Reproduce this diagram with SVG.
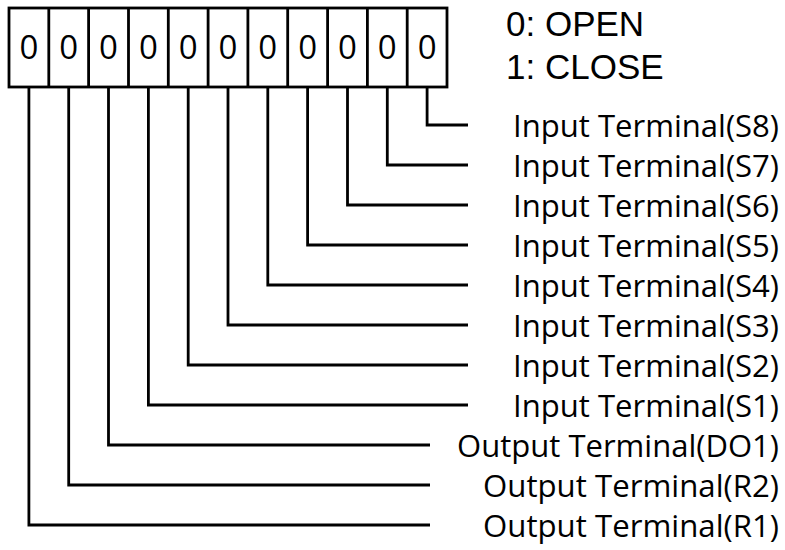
<svg xmlns="http://www.w3.org/2000/svg" width="785" height="550" viewBox="0 0 785 550">
<style>
  .ln { fill: none; stroke: #000; stroke-width: 2.8; stroke-linejoin: miter; stroke-linecap: butt; }
  .dig { font-family: "Open Sans", "Liberation Sans", sans-serif; font-size: 33px; fill: #000; text-anchor: middle; }
  .leg { font-family: "Liberation Sans", Arial, sans-serif; font-size: 35px; fill: #000; }
  .lbl { font-family: "Open Sans", "Liberation Sans", sans-serif; font-size: 31px; fill: #000; text-anchor: end; }
</style>
<rect width="785" height="550" fill="#fff"/>
<g id="switch">
  <rect class="ln" x="9" y="8" width="438" height="79"/>
  <path class="ln" d="M48.8 8V87M88.6 8V87M128.5 8V87M168.3 8V87M208.1 8V87M247.9 8V87M287.7 8V87M327.6 8V87M367.4 8V87M407.2 8V87"/>
  <text class="dig" x="28.9" y="59">0</text>
  <text class="dig" x="68.7" y="59">0</text>
  <text class="dig" x="108.5" y="59">0</text>
  <text class="dig" x="148.4" y="59">0</text>
  <text class="dig" x="188.2" y="59">0</text>
  <text class="dig" x="228" y="59">0</text>
  <text class="dig" x="267.8" y="59">0</text>
  <text class="dig" x="307.6" y="59">0</text>
  <text class="dig" x="347.5" y="59">0</text>
  <text class="dig" x="387.3" y="59">0</text>
  <text class="dig" x="427.1" y="59">0</text>
</g>
<g id="legend">
  <text class="leg" x="506" y="36">0: OPEN</text>
  <text class="leg" x="506" y="79">1: CLOSE</text>
</g>
<g id="connectors">
  <path class="ln" d="M427.1 87V125H468"/>
  <path class="ln" d="M387.3 87V165H468"/>
  <path class="ln" d="M347.5 87V205H468"/>
  <path class="ln" d="M307.6 87V245H468"/>
  <path class="ln" d="M267.8 87V285H468"/>
  <path class="ln" d="M228 87V325H468"/>
  <path class="ln" d="M188.2 87V365H468"/>
  <path class="ln" d="M148.4 87V405H468"/>
  <path class="ln" d="M108.5 87V445H430"/>
  <path class="ln" d="M68.7 87V485H430"/>
  <path class="ln" d="M28.9 87V525H430"/>
</g>
<g id="labels">
  <g id="s8"><text class="lbl" x="779" y="137" textLength="266" lengthAdjust="spacingAndGlyphs">Input Terminal(S8)</text></g>
  <g id="s7"><text class="lbl" x="779" y="177" textLength="266" lengthAdjust="spacingAndGlyphs">Input Terminal(S7)</text></g>
  <g id="s6"><text class="lbl" x="779" y="217" textLength="266" lengthAdjust="spacingAndGlyphs">Input Terminal(S6)</text></g>
  <g id="s5"><text class="lbl" x="779" y="257" textLength="266" lengthAdjust="spacingAndGlyphs">Input Terminal(S5)</text></g>
  <g id="s4"><text class="lbl" x="779" y="297" textLength="266" lengthAdjust="spacingAndGlyphs">Input Terminal(S4)</text></g>
  <g id="s3"><text class="lbl" x="779" y="337" textLength="266" lengthAdjust="spacingAndGlyphs">Input Terminal(S3)</text></g>
  <g id="s2"><text class="lbl" x="779" y="377" textLength="266" lengthAdjust="spacingAndGlyphs">Input Terminal(S2)</text></g>
  <g id="s1"><text class="lbl" x="779" y="417" textLength="266" lengthAdjust="spacingAndGlyphs">Input Terminal(S1)</text></g>
  <g id="do1"><text class="lbl" x="779" y="457" textLength="322" lengthAdjust="spacingAndGlyphs">Output Terminal(DO1)</text></g>
  <g id="r2"><text class="lbl" x="779" y="497" textLength="296" lengthAdjust="spacingAndGlyphs">Output Terminal(R2)</text></g>
  <g id="r1"><text class="lbl" x="779" y="537" textLength="296" lengthAdjust="spacingAndGlyphs">Output Terminal(R1)</text></g>
</g>
</svg>
